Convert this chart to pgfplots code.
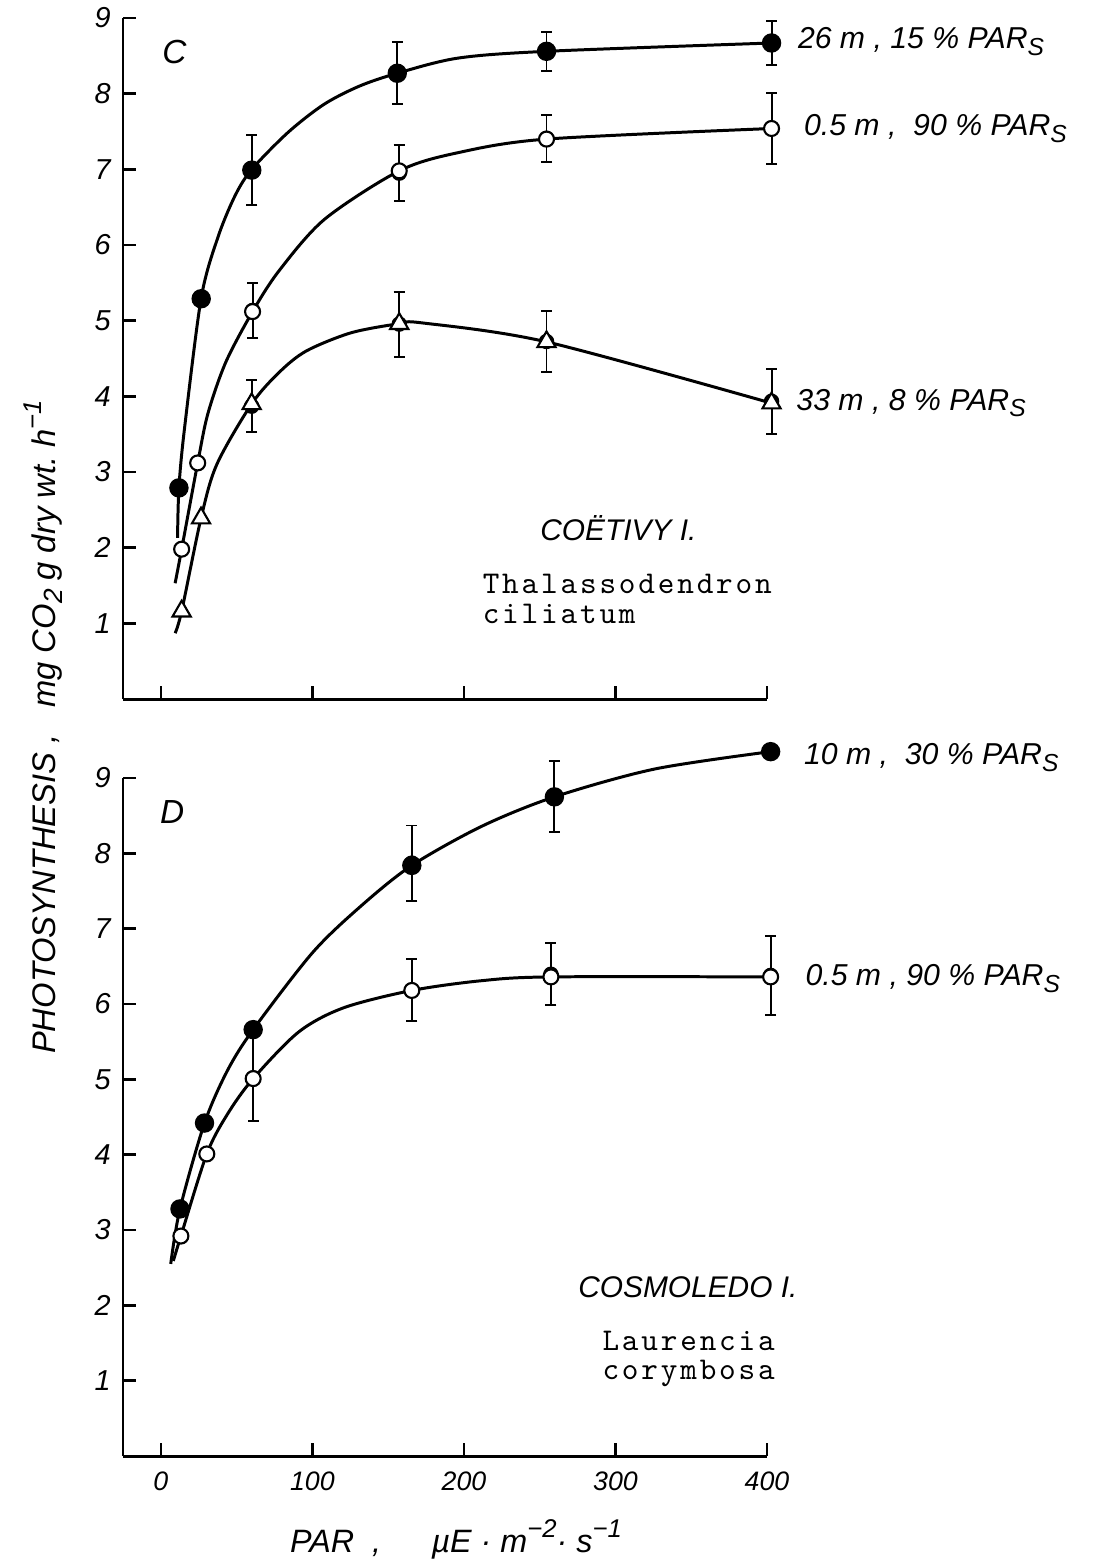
\documentclass[border=0pt]{standalone}
\usepackage{fontspec}
\setmainfont{Liberation Sans}
\newfontfamily\tw[Extension=.otf,LetterSpace=9]{lmmono10-regular}
\usepackage{pgfplots}
\pgfplotsset{compat=1.18}

\newcommand{\subS}{\raisebox{-0.4ex}{\fontsize{7}{8}\selectfont S}}
\newcommand{\sups}[1]{\raisebox{0.85ex}{\fontsize{7.3}{8}\selectfont #1}}

\pgfplotsset{
  panel/.style={
    scale only axis, width=64.4mm,
    xmin=-25, xmax=400, ymin=0, ymax=9,
    axis lines=left, axis line style={-, line width=0.85pt},
    tick align=inside, major tick length=1.3mm,
    tick style={line width=0.7pt, black},
    xtick={0,100,...,400}, ytick={1,...,9},
    clip=false,
    /pgf/number format/assume math mode=true,
    yticklabel style={font=\fontsize{8.2}{9}\selectfont\itshape},
    xticklabel style={font=\fontsize{7.6}{9}\selectfont\itshape, yshift=-0.3mm},
  },
  curve/.style={black, line width=0.85pt, smooth, tension=0.5, mark=none},
  ebar/.style={only marks, mark=none, black, error bars/.cd, y dir=both, y explicit,
    error bar style={line width=0.55pt}, error mark options={rotate=90, mark size=0.55mm, line width=0.55pt}},
  fdot/.style={only marks, mark=*, mark size=0.9mm, mark options={fill=black, draw=black}},
  odot/.style={only marks, mark=*, mark size=0.75mm, mark options={fill=white, draw=black, line width=0.6pt}},
  otri/.style={only marks, mark=triangle*, mark size=1.05mm, mark options={fill=white, draw=black, line width=0.6pt}},
}
\tikzset{
  lab/.style={font=\fontsize{8.6}{10}\selectfont\itshape, anchor=west, inner sep=0pt},
  spc/.style={font=\fontsize{9}{9}\selectfont\tw, anchor=base west, inner sep=0pt},
}

\begin{document}
\begin{tikzpicture}
\path[use as bounding box] (0,0) rectangle (110.4mm,-156.7mm);

% panel C
\begin{axis}[panel, at={(12.3mm,-69.9mm)}, anchor=south west, height=68.1mm, xticklabels={}]
\addplot[curve] coordinates {(11,2.13)(11.9,2.79)(15.5,3.56)(26.6,5.3)(37.6,6.1)(48.9,6.65)(60,7.0)(84,7.49)(107.7,7.86)(131,8.1)(156,8.27)(196,8.47)(254.5,8.56)(403,8.67)};
\addplot[curve] coordinates {(9.4,1.53)(13.7,1.98)(24.3,3.12)(31,3.77)(42.8,4.45)(60.5,5.12)(78,5.66)(108,6.34)(157.3,6.98)(196,7.22)(254.5,7.4)(403,7.54)};
\addplot[curve] coordinates {(9.4,0.87)(13.7,1.16)(26.5,2.39)(36.9,3.1)(59.9,3.9)(78.2,4.32)(96,4.6)(125.5,4.84)(157.3,4.96)(172.7,4.97)(254.5,4.72)(403,3.91)};
% error bars
\addplot[ebar] table[x=x, y=y, y error=e] {
x y e
60 6.99 0.46
156 8.27 0.41
254.5 8.56 0.26
403 8.67 0.29
};
\addplot[ebar] table[x=x, y=y, y error=e] {
x y e
60.5 5.135 0.36
157.3 6.95 0.37
254.5 7.41 0.31
403 7.545 0.47
};
\addplot[ebar] table[x=x, y=y, y error=e] {
x y e
59.9 3.87 0.34
157.3 4.955 0.43
254.5 4.725 0.40
403 3.935 0.43
};
\addplot[fdot] coordinates {(11.9,2.79)(26.6,5.29)(60,6.99)(156,8.27)(254.5,8.56)(403,8.67)};
\addplot[odot] coordinates {(13.7,1.98)(24.3,3.12)(60.5,5.12)(157.3,6.98)(254.5,7.4)(403,7.54)};
\addplot[otri] coordinates {(13.7,1.16)(26.5,2.39)(59.9,3.9)(157.3,4.96)(254.5,4.72)(403,3.91)};

\node[font=\fontsize{9.5}{10}\selectfont\itshape] at (axis cs:8.9,8.55) {C};
\node[lab] at (axis cs:420,8.69) {26 m\ ,\ 15 \% PAR\subS};
\node[lab] at (axis cs:424,7.54) {0.5 m ,\ \ 90 \% PAR\subS};
\node[lab] at (axis cs:419,3.91) {33 m\ ,\ 8 \% PAR\subS};
\node[font=\fontsize{8.5}{10}\selectfont\itshape, anchor=base west, inner sep=0pt] at (axis cs:250,2.1) {COËTIVY I.};
\node[spc] at (axis cs:212,1.39) {Thalassodendron};
\node[spc] at (axis cs:212,1.0) {ciliatum};
\end{axis}

% panel D
\begin{axis}[panel, at={(12.3mm,-145.6mm)}, anchor=south west, height=67.8mm]
\addplot[curve] coordinates {(6.5,2.55)(12.6,3.28)(28.8,4.42)(44,5.12)(60.9,5.66)(100,6.68)(132,7.3)(165.6,7.84)(211.8,8.36)(259.7,8.75)(326,9.12)(402.4,9.35)};
\addplot[curve] coordinates {(8.2,2.59)(13.2,2.92)(30.3,4.01)(44,4.54)(60.9,5.01)(91,5.63)(120.6,5.95)(165.6,6.18)(211.8,6.31)(257.4,6.36)(402.4,6.36)};
\addplot[ebar] table[x=x, y=y, y error=e] {
x y e
165.6 7.87 0.50
259.7 8.75 0.47
};
\addplot[ebar] table[x=x, y=y, y error=e] {
x y e
60.9 5.02 0.57
165.6 6.185 0.41
257.4 6.395 0.41
402.4 6.38 0.52
};
\addplot[fdot] coordinates {(12.6,3.28)(28.8,4.42)(60.9,5.66)(165.6,7.84)(259.7,8.75)(402.4,9.35)};
\addplot[odot] coordinates {(13.2,2.92)(30.3,4.01)(60.9,5.01)(165.6,6.18)(257.4,6.36)(402.4,6.36)};

\node[font=\fontsize{9.5}{10}\selectfont\itshape] at (axis cs:7.4,8.55) {D};
\node[lab] at (axis cs:424,9.27) {10 m ,\ \ 30 \% PAR\subS};
\node[lab] at (axis cs:425,6.34) {0.5 m\ ,\ 90 \% PAR\subS};
\node[font=\fontsize{8.5}{10}\selectfont\itshape, anchor=base west, inner sep=0pt] at (axis cs:275,2.1) {COSMOLEDO I.};
\node[spc] at (axis cs:291,1.4) {Laurencia};
\node[spc] at (axis cs:291,1.02) {corymbosa};
\end{axis}

% shared axis titles
\node[rotate=90, font=\fontsize{9.3}{10}\selectfont\itshape] at (4.3mm,-72.7mm)
  {PHOTOSYNTHESIS ,\ \ \ mg CO\raisebox{-0.4ex}{\fontsize{7.5}{8}\selectfont 2} g dry wt.\ h\sups{−1}};
\node[anchor=base, font=\fontsize{9.2}{10}\selectfont\itshape] at (45.6mm,-155.2mm)
  {PAR\ \ ,\quad\ \ µE\ ·\ m\sups{−2}·\ s\sups{−1}};
\end{tikzpicture}
\end{document}
